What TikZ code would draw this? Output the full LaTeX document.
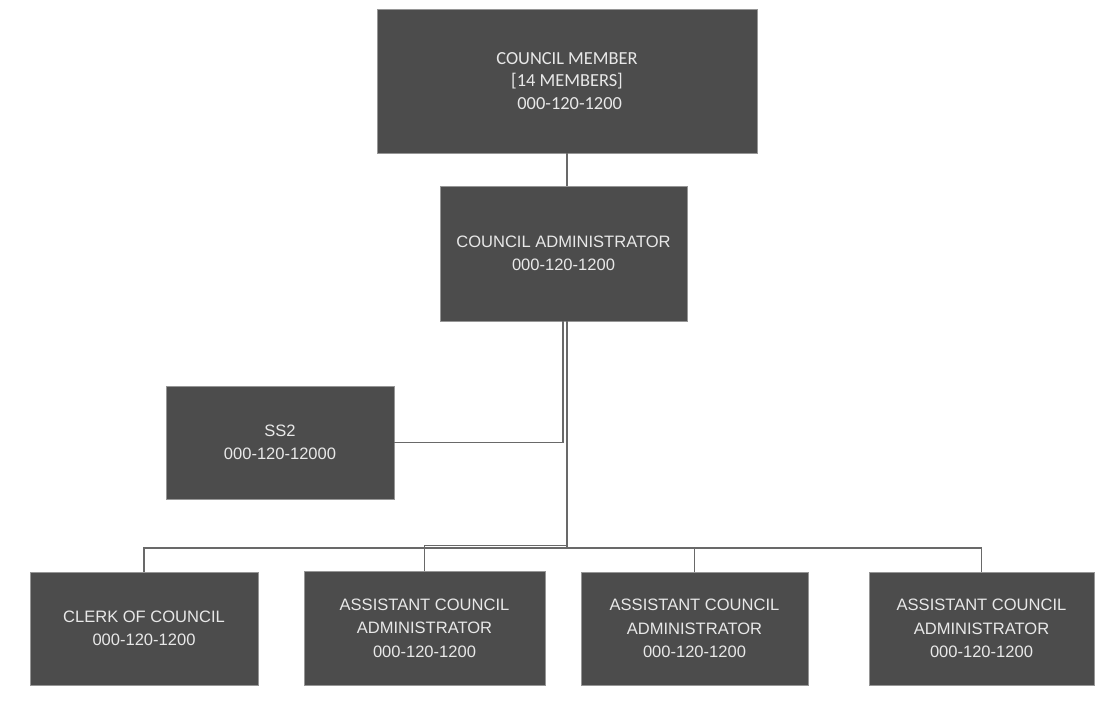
\documentclass[tikz,border=0pt]{standalone}
\usepackage{fontspec}
\setmainfont{Liberation Sans}
\newfontfamily\calfont{Carlito}
\definecolor{boxfill}{RGB}{76,76,76}
\definecolor{boxedge}{RGB}{150,150,150}
\definecolor{boxtext}{RGB}{232,232,232}
\definecolor{linecol}{RGB}{105,105,105}
\begin{document}
\begin{tikzpicture}[x=0.75pt,y=-0.75pt,
  orgbox/.style={draw=boxedge, line width=0.6pt, fill=boxfill, text=boxtext,
    align=center, inner sep=0pt,
    font=\fontsize{12.4pt}{17.5pt}\selectfont},
  topbox/.style={orgbox, font=\calfont\fontsize{13.8pt}{17pt}\selectfont},
  conn/.style={draw=linecol, line width=1pt}]
\useasboundingbox (0,0) rectangle (1099,702);
\node[topbox, minimum width=380*0.75pt, minimum height=144*0.75pt] (cm) at (567,81)
  {COUNCIL MEMBER\\{}[14 MEMBERS]\\\hspace*{4pt}000-120-1200};
\node[orgbox, minimum width=247*0.75pt, minimum height=135*0.75pt] (ca) at (563.5,253.5)
  {COUNCIL ADMINISTRATOR\\000-120-1200};
\node[orgbox, minimum width=228*0.75pt, minimum height=113*0.75pt] (ss) at (280,442.5)
  {SS2\\000-120-12000};
\node[orgbox, minimum width=228*0.75pt, minimum height=113*0.75pt] (clerk) at (144,628.5)
  {CLERK OF COUNCIL\\000-120-1200};
\node[orgbox, minimum width=241*0.75pt, minimum height=114*0.75pt] (a1) at (424.5,628)
  {ASSISTANT COUNCIL\\ADMINISTRATOR\\000-120-1200};
\node[orgbox, minimum width=227*0.75pt, minimum height=113*0.75pt] (a2) at (694.5,628.5)
  {ASSISTANT COUNCIL\\ADMINISTRATOR\\000-120-1200};
\node[orgbox, minimum width=225*0.75pt, minimum height=113*0.75pt] (a3) at (981.5,628.5)
  {ASSISTANT COUNCIL\\ADMINISTRATOR\\000-120-1200};
\coordinate (j1) at (563,444);
\coordinate (bus) at (567,548);
\coordinate (bus2) at (567,545.5);
\draw[conn] (cm.south) -- (cm.south |- ca.north);
\draw[conn] (ca.south -| j1) |- (ss.east);
\draw[conn] (ca.south -| bus) -- (bus);
\draw[conn] (clerk.north) |- (bus) -| (a3.north);
\draw[conn] (a1.north) |- (bus2);
\draw[conn] (bus) -| (a2.north);
\end{tikzpicture}
\end{document}
